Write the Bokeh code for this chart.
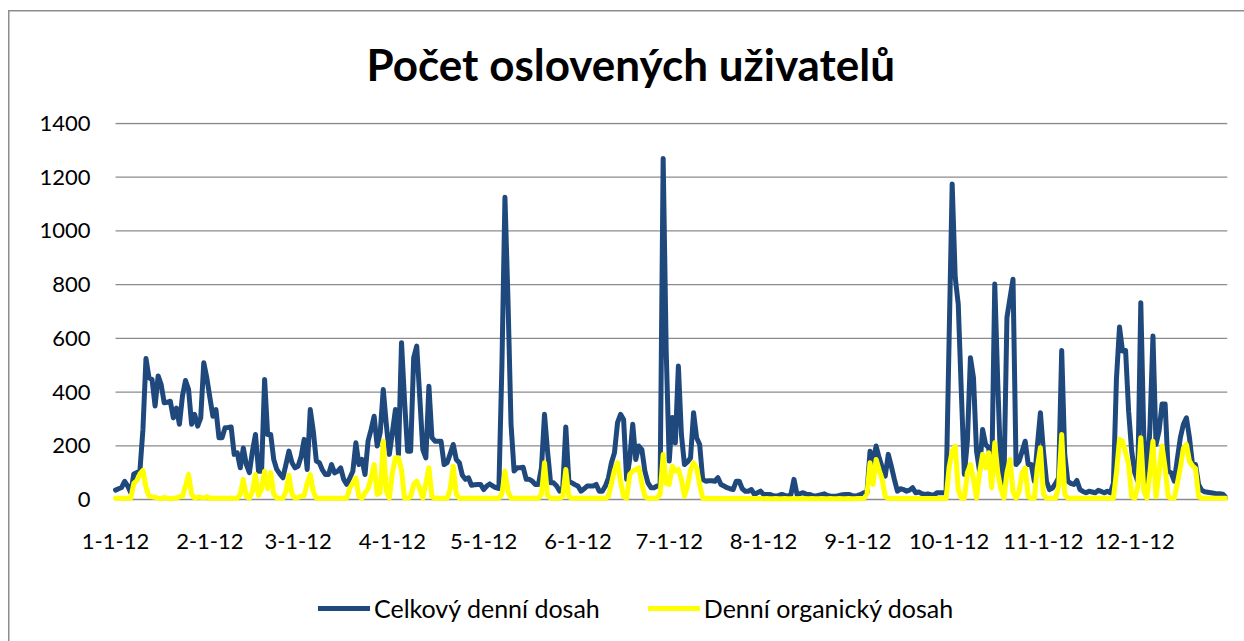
from bokeh.plotting import figure
from bokeh.models import ColumnDataSource, FixedTicker, Legend, LegendItem, Range1d
from bokeh.core.properties import value
from bokeh.embed import file_html
from bokeh.resources import INLINE

# ---------------- data ----------------
month_labels = ["1-1-12", "2-1-12", "3-1-12", "4-1-12", "5-1-12", "6-1-12",
                "7-1-12", "8-1-12", "9-1-12", "10-1-12", "11-1-12", "12-1-12"]
month_lengths = [31, 29, 31, 30, 31, 30, 31, 31, 30, 31, 30, 31]

# Celkový denní dosah (daily values per month)
celk_jan = [35, 40, 45, 68, 50, 25, 95, 100, 105, 260, 525, 453, 447, 348, 460, 428,
            360, 362, 366, 304, 340, 280, 385, 443, 410, 280, 317, 273, 304, 509, 453]
celk_feb = [380, 310, 335, 230, 230, 267, 268, 270, 168, 174, 118, 192, 130, 100, 180,
            242, 105, 105, 447, 242, 242, 149, 112, 95, 81, 130, 180, 137, 118]
celk_mar = [124, 160, 224, 112, 335, 255, 143, 137, 110, 93, 93, 130, 99, 105, 118, 75,
            56, 80, 105, 211, 130, 149, 93, 217, 260, 310, 199, 250, 410, 280, 168]
celk_apr = [250, 335, 168, 584, 366, 180, 180, 528, 571, 380, 186, 155, 422, 230, 217,
            217, 217, 130, 137, 170, 205, 149, 137, 90, 75, 81, 53, 55, 56, 56]
celk_may = [37, 50, 58, 50, 44, 41, 500, 1125, 740, 280, 106, 118, 118, 120, 75, 75,
            68, 56, 56, 118, 317, 180, 62, 62, 50, 31, 44, 270, 68, 62, 55]
celk_jun = [50, 31, 40, 50, 50, 50, 56, 31, 31, 50, 80, 137, 174, 286, 317, 298, 75,
            149, 280, 149, 199, 186, 106, 62, 44, 44, 50, 50, 1270, 553]
celk_jul = [143, 305, 211, 497, 242, 130, 140, 155, 323, 230, 205, 75, 68, 70, 70, 68,
            81, 56, 50, 44, 40, 37, 68, 68, 40, 31, 31, 37, 19, 25, 31]
celk_aug = [19, 19, 19, 15, 12, 15, 19, 15, 12, 19, 75, 19, 22, 25, 20, 19, 15, 12,
            15, 18, 21, 15, 12, 12, 12, 15, 18, 19, 19, 15, 12]
celk_sep = [15, 19, 25, 25, 180, 137, 199, 155, 120, 87, 168, 124, 75, 31, 40, 37, 31,
            35, 44, 25, 28, 22, 19, 21, 18, 16, 25, 25, 25, 25]
celk_oct = [600, 1175, 827, 727, 404, 93, 218, 528, 454, 180, 106, 261, 205, 193, 87,
            802, 429, 106, 56, 677, 750, 820, 130, 143, 180, 217, 130, 130, 68, 200, 323]
celk_nov = [180, 68, 37, 43, 60, 81, 555, 168, 68, 60, 56, 71, 37, 30, 25, 31, 28, 25,
            34, 30, 25, 31, 25, 60, 450, 642, 553, 555, 329, 180]
celk_dec = [100, 68, 733, 230, 56, 267, 609, 205, 255, 356, 356, 106, 99, 68, 150, 230,
            280, 304, 230, 130, 130, 56, 35, 29, 27, 25, 23, 21, 21, 20, 8]

# Denní organický dosah
org_jan = [5, 5, 5, 5, 5, 5, 60, 70, 95, 108, 45, 12, 10, 8, 5, 3, 8, 5, 3, 5, 5, 10,
           12, 50, 93, 20, 5, 8, 8, 5, 10]
org_feb = [5, 5, 5, 5, 5, 5, 5, 5, 5, 5, 20, 75, 10, 5, 30, 93, 15, 40, 105, 40, 100,
           20, 5, 5, 5, 30, 90, 20, 5]
org_mar = [8, 12, 15, 60, 93, 30, 5, 5, 5, 5, 5, 5, 5, 5, 5, 5, 5, 43, 60, 80, 10, 5,
           25, 40, 80, 130, 19, 25, 217, 31, 5]
org_apr = [100, 155, 155, 110, 5, 5, 10, 56, 68, 40, 5, 60, 118, 10, 5, 5, 5, 5, 5,
           40, 124, 20, 5, 5, 5, 5, 5, 5, 5, 5]
org_may = [5, 5, 5, 5, 5, 5, 20, 106, 30, 5, 5, 5, 5, 5, 5, 5, 5, 5, 5, 20, 137, 15,
           5, 5, 5, 5, 10, 112, 10, 5, 5]
org_jun = [5, 5, 5, 5, 5, 5, 5, 5, 5, 5, 10, 60, 110, 137, 68, 10, 5, 93, 105, 112,
           118, 60, 10, 5, 5, 5, 5, 20, 168, 60]
org_jul = [56, 124, 106, 112, 75, 12, 50, 110, 137, 118, 56, 5, 4, 4, 4, 4, 4, 4, 4,
           4, 4, 4, 4, 4, 4, 4, 4, 4, 4, 4, 4]
org_aug = [3, 4, 3, 3, 4, 3, 3, 4, 3, 3, 4, 3, 3, 4, 3, 3, 4, 3, 3, 4, 3, 3, 4, 3, 3,
           4, 3, 3, 4, 3, 3]
org_sep = [4, 4, 4, 20, 137, 56, 149, 110, 75, 10, 5, 4, 4, 4, 4, 4, 4, 4, 4, 4, 4, 4,
           4, 4, 4, 4, 4, 4, 4, 4]
org_oct = [120, 180, 199, 37, 5, 5, 100, 130, 75, 5, 100, 168, 118, 174, 44, 211, 100,
           40, 5, 100, 149, 30, 5, 30, 99, 118, 10, 5, 5, 120, 193]
org_nov = [20, 5, 5, 5, 5, 50, 242, 20, 5, 5, 5, 5, 5, 5, 5, 5, 5, 5, 5, 5, 5, 5, 5, 5,
           100, 224, 217, 175, 130, 10]
org_dec = [5, 50, 230, 30, 5, 100, 217, 10, 100, 199, 118, 10, 5, 5, 60, 118, 190, 205,
           143, 125, 115, 10, 5, 5, 5, 5, 5, 5, 5, 5, 5]

series_names = ["Celkový denní dosah", "Denní organický dosah"]
y_ticks = [0, 200, 400, 600, 800, 1000, 1200, 1400]

celkovy = (celk_jan + celk_feb + celk_mar + celk_apr + celk_may + celk_jun +
           celk_jul + celk_aug + celk_sep + celk_oct + celk_nov + celk_dec)
organicky = (org_jan + org_feb + org_mar + org_apr + org_may + org_jun +
             org_jul + org_aug + org_sep + org_oct + org_nov + org_dec)
days = list(range(len(celkovy)))

month_starts = []
acc = 0
for m in month_lengths:
    month_starts.append(acc)
    acc += m

X_START = days[0]
X_END = days[-1] + 0.5

source = ColumnDataSource(dict(day=days, celkovy=celkovy, organicky=organicky))
label_source = ColumnDataSource(dict(x=month_starts, y=[0] * len(month_starts),
                                     text=month_labels))
grid_source = ColumnDataSource(dict(x0=[X_START] * len(y_ticks),
                                    x1=[X_END] * len(y_ticks),
                                    y=y_ticks))

# ---------------- figure ----------------
FONT = "Lato"
FRAME_LEFT = 35          # px; the first day sits 80 px to the right of it
# The frame reaches the bottom of the canvas and left of the first day, so that
# the date labels and the legend (below the zero line) are not clipped.
p = figure(width=1244, height=641, output_backend="svg", toolbar_location=None,
           x_range=Range1d(X_START - 26.31, X_END), y_range=Range1d(-528.7, 1403.7),
           x_axis_location=None,
           min_border_left=FRAME_LEFT, min_border_right=17, min_border_top=122,
           min_border_bottom=0, title="Počet oslovených uživatelů")
p.outline_line_color = None
p.background_fill_color = "white"
p.border_fill_alpha = 0
# chart-area border (left and top edges, as in the reference)
p.styles = {
    "background": ("linear-gradient(#8d8d8d, #8d8d8d) 8px 10px / 1.5px 100% no-repeat, "
                   "linear-gradient(#8d8d8d, #8d8d8d) 8px 10px / 100% 1.5px no-repeat, "
                   "white"),
}

p.title.text_font = FONT
p.title.text_font_size = "44px"
p.title.text_font_style = "bold"
p.title.text_color = "black"
p.title.align = "left"
p.title.offset = 331
p.title.standoff = 66

# y axis: its labels end 25 px left of the first day
p.yaxis.ticker = FixedTicker(ticks=y_ticks)
ax = p.yaxis[0]
ax.axis_line_color = None
ax.major_tick_line_color = None
ax.minor_tick_line_color = None
ax.major_tick_out = 0
ax.major_tick_in = 0
ax.major_label_text_font = FONT
ax.major_label_text_font_size = "22px"
ax.major_label_text_color = "black"
ax.major_label_standoff = -55

# horizontal gridlines, from the first to the last day
p.xgrid.grid_line_color = None
p.ygrid.grid_line_color = None
p.segment(x0="x0", x1="x1", y0="y", y1="y", source=grid_source,
          line_color="#8b8b8b", line_width=1.3)

# date labels of the horizontal axis, under the zero line
p.text(x="x", y="y", text="text", source=label_source, y_offset=42,
       text_align="center", text_baseline="middle", text_font=value(FONT),
       text_font_size="22px", text_color="black")

r_total = p.line("day", "celkovy", source=source, line_color="#1F497D",
                 line_width=5, line_join="round", line_cap="round")
r_org = p.line("day", "organicky", source=source, line_color="#FFFF00",
               line_width=5, line_join="round", line_cap="round")

legend = Legend(items=[LegendItem(label=series_names[0], renderers=[r_total]),
                       LegendItem(label=series_names[1], renderers=[r_org])],
                orientation="horizontal", location=(283, 18),
                label_text_font=FONT, label_text_font_size="25px",
                label_text_color="black", glyph_width=52, glyph_height=20,
                label_standoff=4, spacing=48, padding=4, margin=0,
                border_line_color=None, background_fill_alpha=0)
p.add_layout(legend, "center")

open("out.html", "w").write(file_html(p, INLINE))
